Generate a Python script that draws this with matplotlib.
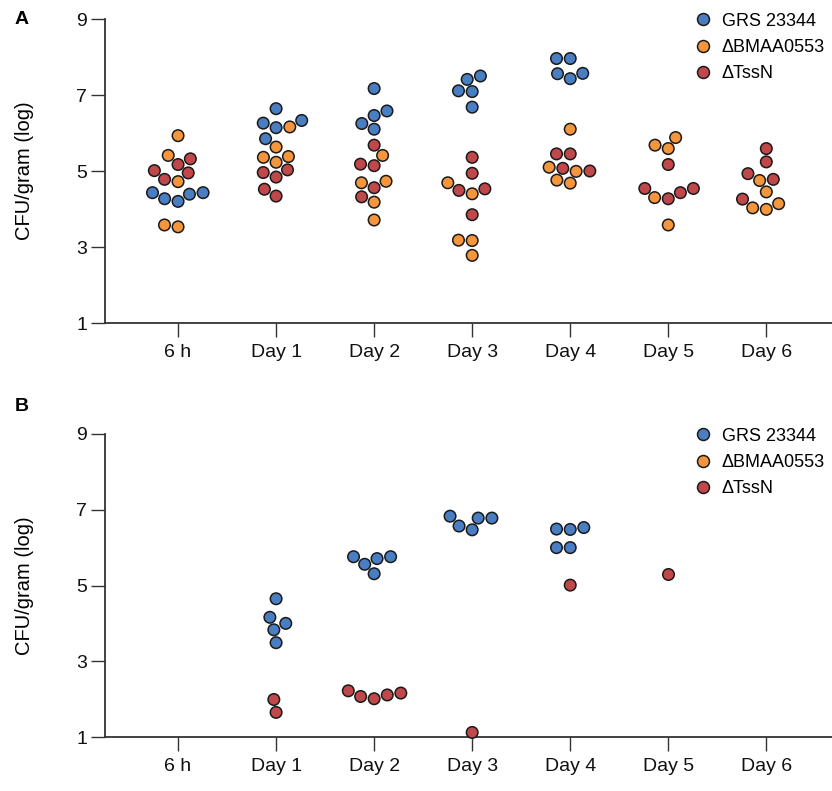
import matplotlib
matplotlib.use("Agg")
import matplotlib.pyplot as plt
import seaborn as sns
import pandas as pd
from matplotlib.lines import Line2D

plt.rcParams['font.family'] = ['Liberation Sans', 'DejaVu Sans']

days = ["6 h", "Day 1", "Day 2", "Day 3", "Day 4", "Day 5", "Day 6"]
strains = ["GRS 23344", "\u0394BMAA0553", "\u0394TssN"]
colors = ["#4a7ec2", "#f5963d", "#c0474a"]

# Panel A values (log CFU/gram), one list per day
a_grs = [[4.43, 4.39, 4.20, 4.27, 4.43], [6.64, 6.26, 6.14, 6.33, 5.85],
         [7.17, 6.46, 6.58, 6.10, 6.25], [7.41, 7.50, 7.09, 7.11, 6.68],
         [7.96, 7.96, 7.57, 7.43, 7.56], [], []]
a_bmaa = [[5.93, 5.41, 4.72, 3.53, 3.58], [6.16, 5.63, 5.38, 5.23, 5.36],
          [5.41, 4.73, 4.69, 4.18, 3.71], [4.40, 4.69, 3.17, 3.18, 2.78],
          [6.10, 5.10, 4.99, 4.68, 4.76], [5.88, 5.59, 5.68, 4.30, 3.58],
          [4.75, 4.45, 4.14, 3.99, 4.03]]
a_tssn = [[5.32, 5.17, 5.01, 4.95, 4.78], [5.03, 4.84, 4.96, 4.52, 4.34],
          [5.68, 5.14, 5.18, 4.56, 4.32], [5.36, 4.94, 4.53, 4.49, 3.85],
          [5.45, 5.45, 5.00, 5.07], [5.17, 4.54, 4.43, 4.27, 4.54],
          [5.59, 5.24, 4.78, 4.93, 4.26]]

# Panel B values
b_grs = [[], [4.65, 4.16, 4.00, 3.83, 3.49], [5.76, 5.71, 5.76, 5.56, 5.31],
         [6.78, 6.78, 6.83, 6.57, 6.47], [6.53, 6.48, 6.49, 6.00, 6.00], [], []]
b_bmaa = [[], [], [], [], [], [], []]
b_tssn = [[], [1.99, 1.65], [2.22, 2.11, 2.01, 2.07, 2.16], [1.12], [5.01], [5.31], []]

yticks = [1, 3, 5, 7, 9]


def to_frame(series_lists):
    rows = []
    for strain, per_day in zip(strains, series_lists):
        for day, vals in zip(days, per_day):
            for v in vals:
                rows.append({"day": day, "strain": strain, "value": v})
    return pd.DataFrame(rows)


fig = plt.figure(figsize=(8.32, 7.91), dpi=100)
axA = fig.add_axes([105 / 832, 1 - 323 / 791, 1 - 105 / 832, 304 / 791])
axB = fig.add_axes([105 / 832, 1 - 737 / 791, 1 - 105 / 832, 303 / 791])

palette = dict(zip(strains, colors))

for ax, data, letter, ly in [(axA, (a_grs, a_bmaa, a_tssn), "A", 19),
                             (axB, (b_grs, b_bmaa, b_tssn), "B", 407)]:
    df = to_frame(data)
    ax.set_xlim(-0.745, 6.67)
    ax.set_ylim(1, 9)
    sns.swarmplot(data=df, x="day", y="value", hue="strain", order=days,
                  hue_order=strains, palette=palette, size=8.3,
                  linewidth=1.1, edgecolor="#1a1a1a", dodge=False,
                  legend=False, ax=ax, zorder=3)
    for coll in list(ax.collections):
        if len(coll.get_offsets()) == 0:
            coll.remove()
        else:
            coll.set_clip_on(False)
    ax.set_xlim(-0.745, 6.67)
    ax.set_ylim(1, 9)
    ax.set_yticks(yticks)
    ax.set_xticks(range(len(days)))
    ax.set_xticklabels(days)
    ax.set_xlabel("")
    ax.set_ylabel("CFU/gram (log)", fontsize=14.5)
    ax.yaxis.set_label_coords((34 - 105) / 727, 0.5)
    for s in ["top", "right"]:
        ax.spines[s].set_visible(False)
    for s in ["left", "bottom"]:
        ax.spines[s].set_linewidth(1.3)
        ax.spines[s].set_color("#333333")
    ax.tick_params(axis="both", length=10, width=1.0, color="#333333",
                   labelsize=14, labelcolor="#111111")
    ax.tick_params(axis="y", pad=3)
    ax.tick_params(axis="x", pad=5)
    handles = [Line2D([], [], marker="o", linestyle="none", markersize=8.6,
                      markerfacecolor=c, markeredgecolor="#1a1a1a",
                      markeredgewidth=1.1) for c in colors]
    ax.legend(handles, strains, loc="upper left",
              bbox_to_anchor=((682 - 105) / 727, 1.045), frameon=False,
              fontsize=13, handletextpad=0.3, labelspacing=0.52,
              borderaxespad=0, handlelength=1.5)
    fig.text(22 / 832, 1 - ly / 791, letter, fontsize=14, fontweight="bold",
             ha="center", va="center")

fig.savefig("out.png", dpi=100)
